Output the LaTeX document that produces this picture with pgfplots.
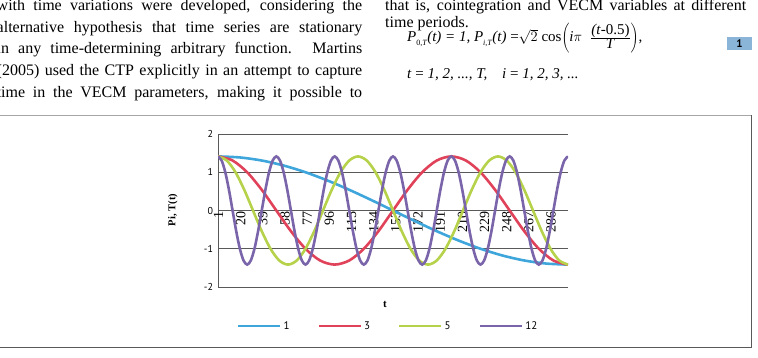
\documentclass[border=0pt]{standalone}
\usepackage{pgfplots}
\pgfplotsset{compat=1.18}
\usepackage{fontspec}
\setmainfont{Liberation Serif}
\newfontfamily\sansf{PT Sans}
\definecolor{cOne}{HTML}{3FA6DC}
\definecolor{cThree}{HTML}{E0425A}
\definecolor{cFive}{HTML}{B6D24A}
\definecolor{cTwelve}{HTML}{7A64AA}
\definecolor{eqbox}{HTML}{8AB4D8}
\begin{document}
\begin{tikzpicture}[x=1pt,y=1pt]
\useasboundingbox (0,0) rectangle (758,357);
\begin{scope}[every node/.style={anchor=base west, inner sep=0pt, font=\fontsize{16}{18}\selectfont}]
\node at (-3.5,346) {\makebox[365.5pt][s]{with time variations were developed, considering the}};
\node at (-3.5,324.5) {\makebox[365.5pt][s]{alternative hypothesis that time series are stationary}};
\node at (-3.5,303) {\makebox[365.5pt][s]{in any time-determining arbitrary function. Martins}};
\node at (-3.5,281.5) {\makebox[365.5pt][s]{(2005) used the CTP explicitly in an attempt to capture}};
\node at (-3.5,260) {\makebox[365.5pt][s]{time in the VECM parameters, making it possible to}};
\node at (385,346) {\makebox[361pt][s]{that is, cointegration and VECM variables at different}};
\node at (385,329) {time periods.};
\end{scope}
\begin{scope}[every node/.style={anchor=base west, inner sep=0pt, font=\fontsize{15}{18}\selectfont}]
\node at (407,315) {\textit{P}\raisebox{-3pt}{\fontsize{8}{8}\selectfont 0,\textit{T}}\textit{(t) = 1, P}\raisebox{-3pt}{\fontsize{8}{8}\selectfont\textit{i},\textit{T}}\textit{(t)} =$\sqrt{2}$ cos$\left(\hbox{\textit{i}$\pi$}\;\;\frac{\hbox{\textit{(t}-0.5)}}{\hbox{\textit{T}}}\right)$,};
\node at (407,278) {\textit{t} = \textit{1, 2, ..., T,}};
\node at (502,278) {\textit{i} = \textit{1, 2, 3, ...}};
\end{scope}
\fill[eqbox] (727,307) rectangle (752,320);
\node[font=\sansf\bfseries\fontsize{11}{11}\selectfont, inner sep=0pt] at (739.5,313.5) {1};
\draw[black!35, line width=1pt] (-2,242) -- (751,242);
\draw[black!65, line width=1pt] (751,242) -- (751,10) -- (-2,10);
\begin{axis}[
  at={(218pt,70pt)}, anchor=south west, scale only axis,
  width=350pt, height=153pt,
  xmin=0.5, xmax=300.5, ymin=-2, ymax=2,
  axis x line=middle, axis y line=left,
  axis line style={-, draw=black!65, line width=0.8pt},
  hide obscured x ticks=false, hide obscured y ticks=false,
  xtick={1,20,39,58,77,96,115,134,153,172,191,210,229,248,267,286},
  xticklabels={1,20,39,58,77,96,115,134,153,172,191,210,229,248,267,286},
  xticklabel style={rotate=90, anchor=east, font=\fontsize{14}{14}\selectfont, inner sep=1pt},
  ytick={-2,-1,0,1,2},
  yticklabels={-2,-1,0,1,2},
  yticklabel style={font=\sansf\fontsize{10}{10}\selectfont, xshift=-1.5pt},
  tick style={draw=none}, major tick length=0pt,
  ymajorgrids, grid style={black!65, line width=0.8pt},
  xlabel={t}, ylabel={Pi, T(t)},
  xlabel style={at={(axis description cs:0.477,-0.111)}, anchor=center, font=\bfseries\fontsize{11}{11}\selectfont},
  ylabel style={at={(axis description cs:-0.129,0.503)}, anchor=center, font=\bfseries\fontsize{10.5}{10.5}\selectfont},
  legend columns=4,
  legend style={at={(axis description cs:0.486,-0.255)}, anchor=center, draw=none, fill=none,
    font=\sansf\fontsize{11}{11}\selectfont,
    /tikz/every even column/.append style={column sep=26pt}},
  legend image code/.code={\draw[#1, line width=2.6pt] (0pt,0pt) -- (42pt,0pt);},
  every axis plot/.append style={line width=2.6pt, smooth, no markers},
]
\addplot[cOne] coordinates {(0.5,1.4142) (19.25,1.3870) (38,1.3066) (56.75,1.1759) (75.5,1) (94.25,0.7857) (113,0.5412) (131.75,0.2759) (150.5,0) (169.25,-0.2759) (188,-0.5412) (206.75,-0.7857) (225.5,-1) (244.25,-1.1759) (263,-1.3066) (281.75,-1.3870) (300.5,-1.4142)};
\addlegendentry{1}
\addplot[cThree] coordinates {(0.5,1.4142) (13,1.3066) (25.5,1) (38,0.5412) (50.5,0) (63,-0.5412) (75.5,-1) (88,-1.3066) (100.5,-1.4142) (113,-1.3066) (125.5,-1) (138,-0.5412) (150.5,0) (163,0.5412) (175.5,1) (188,1.3066) (200.5,1.4142) (213,1.3066) (225.5,1) (238,0.5412) (250.5,0) (263,-0.5412) (275.5,-1) (288,-1.3066) (300.5,-1.4142)};
\addlegendentry{3}
\addplot[cFive] coordinates {(0.5,1.4142) (8,1.3066) (15.5,1) (23,0.5412) (30.5,0) (38,-0.5412) (45.5,-1) (53,-1.3066) (60.5,-1.4142) (68,-1.3066) (75.5,-1) (83,-0.5412) (90.5,0) (98,0.5412) (105.5,1) (113,1.3066) (120.5,1.4142) (128,1.3066) (135.5,1) (143,0.5412) (150.5,0) (158,-0.5412) (165.5,-1) (173,-1.3066) (180.5,-1.4142) (188,-1.3066) (195.5,-1) (203,-0.5412) (210.5,0) (218,0.5412) (225.5,1) (233,1.3066) (240.5,1.4142) (248,1.3066) (255.5,1) (263,0.5412) (270.5,0) (278,-0.5412) (285.5,-1) (293,-1.3066) (300.5,-1.4142)};
\addlegendentry{5}
\addplot[cTwelve] coordinates {
(0.5,1.4142) (3.625,1.3066) (6.75,1) (9.875,0.5412) (13,0) (16.125,-0.5412) (19.25,-1) (22.375,-1.3066) (25.5,-1.4142) (28.625,-1.3066) (31.75,-1) (34.875,-0.5412) (38,0) (41.125,0.5412) (44.25,1) (47.375,1.3066)
(50.5,1.4142) (53.625,1.3066) (56.75,1) (59.875,0.5412) (63,0) (66.125,-0.5412) (69.25,-1) (72.375,-1.3066) (75.5,-1.4142) (78.625,-1.3066) (81.75,-1) (84.875,-0.5412) (88,0) (91.125,0.5412) (94.25,1) (97.375,1.3066)
(100.5,1.4142) (103.625,1.3066) (106.75,1) (109.875,0.5412) (113,0) (116.125,-0.5412) (119.25,-1) (122.375,-1.3066) (125.5,-1.4142) (128.625,-1.3066) (131.75,-1) (134.875,-0.5412) (138,0) (141.125,0.5412) (144.25,1) (147.375,1.3066)
(150.5,1.4142) (153.625,1.3066) (156.75,1) (159.875,0.5412) (163,0) (166.125,-0.5412) (169.25,-1) (172.375,-1.3066) (175.5,-1.4142) (178.625,-1.3066) (181.75,-1) (184.875,-0.5412) (188,0) (191.125,0.5412) (194.25,1) (197.375,1.3066)
(200.5,1.4142) (203.625,1.3066) (206.75,1) (209.875,0.5412) (213,0) (216.125,-0.5412) (219.25,-1) (222.375,-1.3066) (225.5,-1.4142) (228.625,-1.3066) (231.75,-1) (234.875,-0.5412) (238,0) (241.125,0.5412) (244.25,1) (247.375,1.3066)
(250.5,1.4142) (253.625,1.3066) (256.75,1) (259.875,0.5412) (263,0) (266.125,-0.5412) (269.25,-1) (272.375,-1.3066) (275.5,-1.4142) (278.625,-1.3066) (281.75,-1) (284.875,-0.5412) (288,0) (291.125,0.5412) (294.25,1) (297.375,1.3066)
(300.5,1.4142)};
\addlegendentry{12}
\end{axis}
\end{tikzpicture}
\end{document}
